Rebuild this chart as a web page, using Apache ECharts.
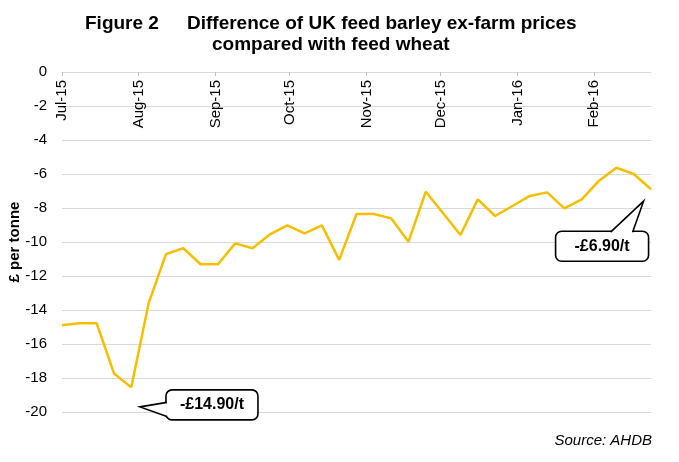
<!DOCTYPE html>
<html>
<head>
<meta charset="utf-8">
<script src="https://cdn.jsdelivr.net/npm/echarts@6/dist/echarts.min.js"></script>
<style>
html,body{margin:0;padding:0;background:#fff;}
#chart{width:679px;height:462px;}
</style>
</head>
<body>
<div id="chart"></div>
<script>
// ---- data ----
var weekDates = [
  '2015-07-01','2015-07-08','2015-07-15','2015-07-22','2015-07-29',
  '2015-08-05','2015-08-12','2015-08-19','2015-08-26',
  '2015-09-02','2015-09-09','2015-09-16','2015-09-23','2015-09-30',
  '2015-10-07','2015-10-14','2015-10-21','2015-10-28',
  '2015-11-04','2015-11-11','2015-11-18','2015-11-25',
  '2015-12-02','2015-12-09','2015-12-16','2015-12-23','2015-12-30',
  '2016-01-06','2016-01-13','2016-01-20','2016-01-27',
  '2016-02-03','2016-02-10','2016-02-17','2016-02-24'
];
var priceDiff = [
  -14.9, -14.78, -14.78, -17.73, -18.55,
  -13.6, -10.71, -10.37, -11.31,
  -11.31, -10.08, -10.37, -9.55, -9.02,
  -9.49, -9.02, -11.05, -8.35,
  -8.35, -8.61, -9.98, -7.04,
  -8.31, -9.59, -7.49, -8.47, -7.88,
  -7.29, -7.08, -8.02, -7.49,
  -6.39, -5.63, -6.0, -6.9
];
var monthStarts = ['2015-07-01','2015-08-01','2015-09-01','2015-10-01','2015-11-01','2015-12-01','2016-01-01','2016-02-01'];
var monthLabels = ['Jul-15','Aug-15','Sep-15','Oct-15','Nov-15','Dec-15','Jan-16','Feb-16'];
var yMin = -20, yMax = 0, yStep = 2;
var calloutTexts = ['-£14.90/t', '-£6.90/t'];
var calloutTips = [['2015-08-01T12:00', -19.7], ['2016-02-21', -7.6]];

function ts(s){ return new Date(s + (s.length === 10 ? 'T00:00:00Z' : ':00Z')).getTime(); }
var seriesData = weekDates.map(function(d, i){ return [ts(d), priceDiff[i]]; });
var monthTs = monthStarts.map(ts);

var chart = echarts.init(document.getElementById('chart'), null, {renderer: 'canvas'});
var FONT = 'Liberation Sans, Arial, sans-serif';

chart.setOption({
  animation: false,
  backgroundColor: '#ffffff',
  title: [
    {text: 'Figure 2', left: 80, top: 9,
     textStyle: {fontFamily: FONT, fontSize: 19, fontWeight: 'bold', color: '#000'}},
    {text: 'Difference of UK feed barley ex-farm prices', left: 182, top: 9,
     textStyle: {fontFamily: FONT, fontSize: 19, fontWeight: 'bold', color: '#000'}},
    {text: 'compared with feed wheat', left: 207, top: 30,
     textStyle: {fontFamily: FONT, fontSize: 19, fontWeight: 'bold', color: '#000'}}
  ],
  grid: {left: 62, right: 28, top: 72, bottom: 50, containLabel: false, outerBoundsMode: 'none'},
  xAxis: {
    type: 'value',
    position: 'top',
    min: ts(weekDates[0]),
    max: ts(weekDates[weekDates.length - 1]),
    axisLine: {show: true, lineStyle: {color: '#d9d9d9', width: 1}},
    axisTick: {show: true, inside: true, length: 4, lineStyle: {color: '#bfbfbf'}, customValues: monthTs},
    axisLabel: {
      show: true, inside: true, rotate: 90, margin: 8,
      customValues: monthTs,
      fontFamily: FONT, fontSize: 15, color: '#000',
      formatter: function(v){ var i = monthTs.indexOf(v); return i >= 0 ? monthLabels[i] : ''; }
    },
    splitLine: {show: false}
  },
  yAxis: {
    type: 'value',
    min: yMin, max: yMax, interval: yStep,
    name: '£ per tonne',
    nameLocation: 'middle',
    nameGap: 40,
    nameMoveOverlap: false,
    nameTextStyle: {fontFamily: FONT, fontSize: 15, fontWeight: 'bold', color: '#000'},
    axisLine: {show: false},
    axisTick: {show: false},
    axisLabel: {fontFamily: FONT, fontSize: 15, color: '#000', margin: 15},
    splitLine: {show: true, lineStyle: {color: '#d9d9d9', width: 1}}
  },
  series: [{
    type: 'line',
    data: seriesData,
    showSymbol: false,
    symbol: 'none',
    lineStyle: {color: '#F7BE00', width: 2.5},
    itemStyle: {color: '#F7BE00'}
  }]
});

// callouts anchored to data coordinates
var tip1 = chart.convertToPixel({gridIndex: 0}, [ts(calloutTips[0][0]), calloutTips[0][1]]);
var tip2 = chart.convertToPixel({gridIndex: 0}, [ts(calloutTips[1][0]), calloutTips[1][1]]);

function callout(tip, box, base, text){
  var els = [];
  els.push({type: 'rect', shape: {x: box[0], y: box[1], width: box[2], height: box[3], r: 6},
    style: {fill: '#fff', stroke: '#000', lineWidth: 1.6}, z: 100});
  els.push({type: 'polygon', shape: {points: [base[0], tip, base[1]]},
    style: {fill: '#fff', stroke: null}, z: 101});
  els.push({type: 'polyline', shape: {points: [base[0], tip, base[1]]},
    style: {stroke: '#000', lineWidth: 1.6, fill: null}, z: 102});
  els.push({type: 'text', x: box[0] + box[2] / 2, y: box[1] + box[3] / 2, z: 103,
    style: {text: text, font: 'bold 16px ' + FONT, fill: '#000', align: 'center', verticalAlign: 'middle'}});
  return els;
}
var g = [{
  type: 'text', right: 27, top: 433,
  style: {text: 'Source: AHDB', font: 'italic 15px ' + FONT, fill: '#000'}
}];
// callout 1: box to the right of the tip, tail on left side
var b1 = [tip1[0] + 26, tip1[1] - 17, 92, 30];
g = g.concat(callout(tip1, b1, [[b1[0] + 1, tip1[1] - 4.5], [b1[0] + 1, tip1[1] + 9.5]], calloutTexts[0]));
// callout 2: box below the tip, tail on top side
var b2 = [tip2[0] - 88, tip2[1] + 30, 93, 30];
g = g.concat(callout(tip2, b2, [[tip2[0] - 33, b2[1] + 1], [tip2[0] - 11, b2[1] + 1]], calloutTexts[1]));

chart.setOption({graphic: g});
</script>
</body>
</html>
